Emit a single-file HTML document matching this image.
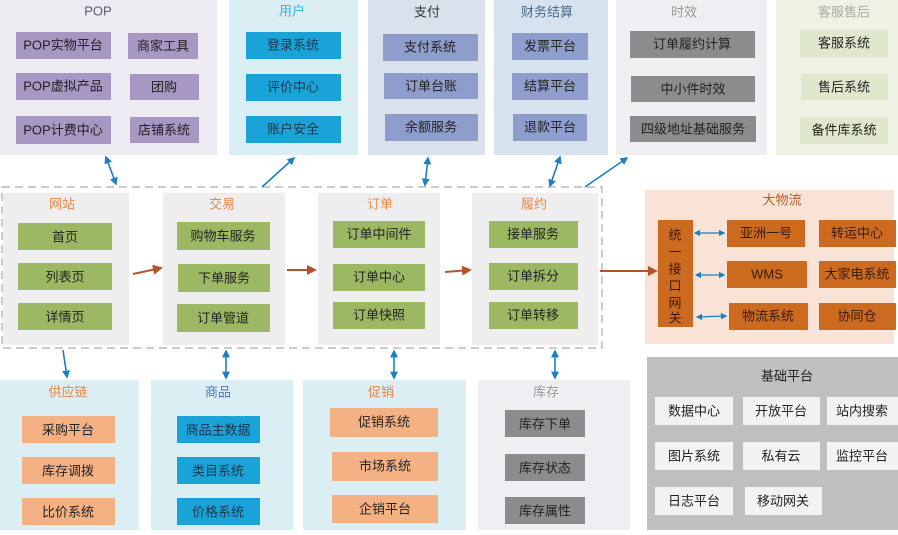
<!DOCTYPE html>
<html><head><meta charset="utf-8"><style>
html,body{margin:0;padding:0;background:#fff;}
svg text{font-family:"Liberation Sans","Noto Sans CJK SC",sans-serif;font-size:13px;text-anchor:middle;dominant-baseline:central;}
</style></head><body>
<svg width="898" height="530" viewBox="0 0 898 530" xmlns="http://www.w3.org/2000/svg">
<defs>
<marker id="b" viewBox="0 0 10 10" refX="8" refY="5" markerWidth="5" markerHeight="5" orient="auto-start-reverse"><path d="M0,0L10,5L0,10z" fill="#1d7fc0"/></marker>
<marker id="o" viewBox="0 0 10 10" refX="8" refY="5" markerWidth="5" markerHeight="5" orient="auto"><path d="M0,0L10,5L0,10z" fill="#b5532a"/></marker>
</defs>
<!-- top panels -->
<rect x="0" y="0" width="217" height="155" fill="#ecebf1"/>
<text x="98" y="11" fill="#5a5a78">POP</text>
<g fill="#a697c3"><rect x="16" y="32" width="95" height="27"/><rect x="128" y="33" width="70" height="26"/><rect x="16" y="73" width="95" height="27"/><rect x="130" y="74" width="69" height="26"/><rect x="16" y="116" width="95" height="28"/><rect x="130" y="117" width="69" height="26"/></g>
<g fill="#222"><text x="63" y="45">POP实物平台</text><text x="163" y="46">商家工具</text><text x="63" y="86">POP虚拟产品</text><text x="164" y="87">团购</text><text x="63" y="130">POP计费中心</text><text x="164" y="130">店铺系统</text></g>

<rect x="229" y="0" width="129" height="155" fill="#daeef3"/>
<text x="292" y="11" fill="#3aaee0">用户</text>
<g fill="#19a3d6"><rect x="246" y="32" width="95" height="27"/><rect x="246" y="74" width="95" height="27"/><rect x="246" y="116" width="95" height="27"/></g>
<g fill="#1b3550"><text x="293" y="45">登录系统</text><text x="293" y="87">评价中心</text><text x="293" y="129">账户安全</text></g>

<rect x="368" y="0" width="117" height="155" fill="#d9e2ec"/>
<text x="427" y="12" fill="#333">支付</text>
<g fill="#8e9dcc"><rect x="383" y="34" width="95" height="27"/><rect x="384" y="73" width="94" height="26"/><rect x="385" y="114" width="93" height="27"/></g>
<g fill="#222"><text x="430" y="47">支付系统</text><text x="431" y="86">订单台账</text><text x="431" y="127">余额服务</text></g>

<rect x="494" y="0" width="114" height="155" fill="#d6e3ee"/>
<text x="547" y="12" fill="#4a6a8a">财务结算</text>
<g fill="#8e9dcc"><rect x="512" y="33" width="76" height="27"/><rect x="512" y="73" width="76" height="27"/><rect x="513" y="114" width="74" height="27"/></g>
<g fill="#222"><text x="550" y="46">发票平台</text><text x="550" y="86">结算平台</text><text x="550" y="127">退款平台</text></g>

<rect x="616" y="0" width="151" height="155" fill="#efeff3"/>
<text x="684" y="12" fill="#999">时效</text>
<g fill="#8c8c8c"><rect x="630" y="31" width="125" height="27"/><rect x="631" y="76" width="124" height="26"/><rect x="630" y="116" width="126" height="26"/></g>
<g fill="#222"><text x="692" y="44">订单履约计算</text><text x="693" y="89">中小件时效</text><text x="693" y="129">四级地址基础服务</text></g>

<rect x="776" y="0" width="122" height="155" fill="#eef2e2"/>
<text x="844" y="12" fill="#aaa">客服售后</text>
<g fill="#dfe8cc"><rect x="800" y="30" width="88" height="27"/><rect x="801" y="74" width="87" height="26"/><rect x="800" y="117" width="88" height="27"/></g>
<g fill="#222"><text x="844" y="43">客服系统</text><text x="844" y="87">售后系统</text><text x="844" y="130">备件库系统</text></g>

<!-- dashed -->
<rect x="2" y="187" width="600" height="161" fill="none" stroke="#999" stroke-width="1" stroke-dasharray="8,5"/>
<g fill="#eeeeee"><rect x="3" y="193" width="126" height="152"/><rect x="163" y="193" width="122" height="152"/><rect x="318" y="193" width="122" height="152"/><rect x="472" y="193" width="126" height="152"/></g>
<g fill="#e8884a"><text x="62" y="204">网站</text><text x="222" y="204">交易</text><text x="380" y="204">订单</text><text x="534" y="204">履约</text></g>
<g fill="#9db862">
<rect x="18" y="223" width="94" height="27"/><rect x="18" y="263" width="94" height="27"/><rect x="18" y="303" width="94" height="27"/>
<rect x="177" y="222" width="93" height="28"/><rect x="178" y="264" width="92" height="28"/><rect x="177" y="304" width="93" height="28"/>
<rect x="333" y="221" width="92" height="27"/><rect x="333" y="264" width="92" height="27"/><rect x="333" y="302" width="92" height="27"/>
<rect x="489" y="221" width="89" height="27"/><rect x="489" y="263" width="89" height="27"/><rect x="489" y="302" width="89" height="27"/>
</g>
<g fill="#222">
<text x="65" y="237">首页</text><text x="65" y="277">列表页</text><text x="65" y="317">详情页</text>
<text x="223" y="236">购物车服务</text><text x="224" y="278">下单服务</text><text x="223" y="318">订单管道</text>
<text x="379" y="234">订单中间件</text><text x="379" y="277">订单中心</text><text x="379" y="315">订单快照</text>
<text x="533" y="234">接单服务</text><text x="533" y="276">订单拆分</text><text x="533" y="315">订单转移</text>
</g>

<!-- 大物流 -->
<rect x="645" y="190" width="249" height="154" fill="#f9e3d7"/>
<text x="782" y="200" fill="#b06030">大物流</text>
<g fill="#cc6a1f"><rect x="658" y="220" width="35" height="107"/>
<rect x="727" y="220" width="78" height="27"/><rect x="819" y="220" width="77" height="27"/>
<rect x="727" y="261" width="80" height="27"/><rect x="819" y="261" width="77" height="27"/>
<rect x="729" y="303" width="79" height="27"/><rect x="819" y="303" width="77" height="27"/></g>
<g fill="#3a1a0a"><text x="675" y="235">统</text><text x="675" y="252">一</text><text x="675" y="269">接</text><text x="675" y="286">口</text><text x="675" y="303">网</text><text x="675" y="318">关</text>
<text x="766" y="233">亚洲一号</text><text x="857" y="233">转运中心</text><text x="767" y="274">WMS</text><text x="857" y="274">大家电系统</text><text x="768" y="316">物流系统</text><text x="857" y="316">协同仓</text></g>
<g stroke="#1d7fc0" stroke-width="1.3" marker-start="url(#b)" marker-end="url(#b)">
<line x1="695" y1="233" x2="724" y2="233"/><line x1="696" y1="275" x2="724" y2="275"/><line x1="697" y1="317" x2="726" y2="316"/>
</g>

<g stroke="#b5532a" stroke-width="2" marker-end="url(#o)">
<line x1="133" y1="274" x2="161" y2="268"/><line x1="287" y1="270" x2="315" y2="270"/><line x1="445" y1="272" x2="470" y2="270"/><line x1="600" y1="271" x2="656" y2="271"/>
</g>

<!-- 基础平台 -->
<rect x="647" y="357" width="251" height="173" fill="#bfbfbf"/>
<text x="787" y="376" fill="#222">基础平台</text>
<g fill="#f2f2f2"><rect x="655" y="397" width="78" height="28"/><rect x="743" y="397" width="77" height="28"/><rect x="827" y="397" width="71" height="28"/>
<rect x="655" y="442" width="78" height="28"/><rect x="743" y="442" width="77" height="28"/><rect x="827" y="442" width="71" height="28"/>
<rect x="655" y="487" width="78" height="28"/><rect x="745" y="487" width="77" height="28"/></g>
<g fill="#222"><text x="694" y="411">数据中心</text><text x="781" y="411">开放平台</text><text x="862" y="411">站内搜索</text>
<text x="694" y="456">图片系统</text><text x="781" y="456">私有云</text><text x="862" y="456">监控平台</text>
<text x="694" y="501">日志平台</text><text x="783" y="501">移动网关</text></g>

<!-- bottom panels -->
<rect x="0" y="380" width="139" height="150" fill="#daeef3"/>
<rect x="151" y="380" width="142" height="150" fill="#daeef3"/>
<rect x="303" y="380" width="163" height="150" fill="#daeef3"/>
<rect x="478" y="380" width="152" height="150" fill="#efeff3"/>
<text x="68" y="392" fill="#e8884a">供应链</text><text x="218" y="392" fill="#4a7ab0">商品</text><text x="381" y="392" fill="#e8884a">促销</text><text x="546" y="392" fill="#999">库存</text>
<g fill="#f4b183"><rect x="22" y="416" width="93" height="27"/><rect x="22" y="457" width="93" height="27"/><rect x="22" y="498" width="93" height="27"/>
<rect x="330" y="408" width="108" height="29"/><rect x="332" y="452" width="106" height="29"/><rect x="332" y="495" width="106" height="28"/></g>
<g fill="#19a3d6"><rect x="177" y="416" width="83" height="27"/><rect x="177" y="457" width="83" height="27"/><rect x="177" y="498" width="83" height="27"/></g>
<g fill="#8c8c8c"><rect x="505" y="410" width="80" height="27"/><rect x="505" y="454" width="80" height="27"/><rect x="505" y="497" width="80" height="27"/></g>
<g fill="#222"><text x="68" y="430">采购平台</text><text x="68" y="471">库存调拨</text><text x="68" y="512">比价系统</text>
<text x="218" y="430" fill="#1b3550">商品主数据</text><text x="218" y="471" fill="#1b3550">类目系统</text><text x="218" y="512" fill="#1b3550">价格系统</text>
<text x="384" y="422">促销系统</text><text x="385" y="466">市场系统</text><text x="385" y="509">企销平台</text>
<text x="545" y="424">库存下单</text><text x="545" y="468">库存状态</text><text x="545" y="511">库存属性</text></g>

<!-- blue connectors -->
<g stroke="#1d7fc0" stroke-width="1.6" fill="none">
<line x1="106" y1="157" x2="116" y2="184" marker-start="url(#b)" marker-end="url(#b)"/>
<line x1="262" y1="187" x2="294" y2="158" marker-end="url(#b)"/>
<line x1="428" y1="158" x2="425" y2="185" marker-start="url(#b)" marker-end="url(#b)"/>
<line x1="560" y1="157" x2="550" y2="186" marker-start="url(#b)" marker-end="url(#b)"/>
<line x1="585" y1="187" x2="627" y2="158" marker-end="url(#b)"/>
<line x1="63" y1="350" x2="67" y2="377" marker-end="url(#b)"/>
<line x1="226" y1="351" x2="226" y2="378" marker-start="url(#b)" marker-end="url(#b)"/>
<line x1="394" y1="351" x2="394" y2="378" marker-start="url(#b)" marker-end="url(#b)"/>
<line x1="555" y1="351" x2="555" y2="378" marker-start="url(#b)" marker-end="url(#b)"/>
</g>
</svg>
</body></html>
